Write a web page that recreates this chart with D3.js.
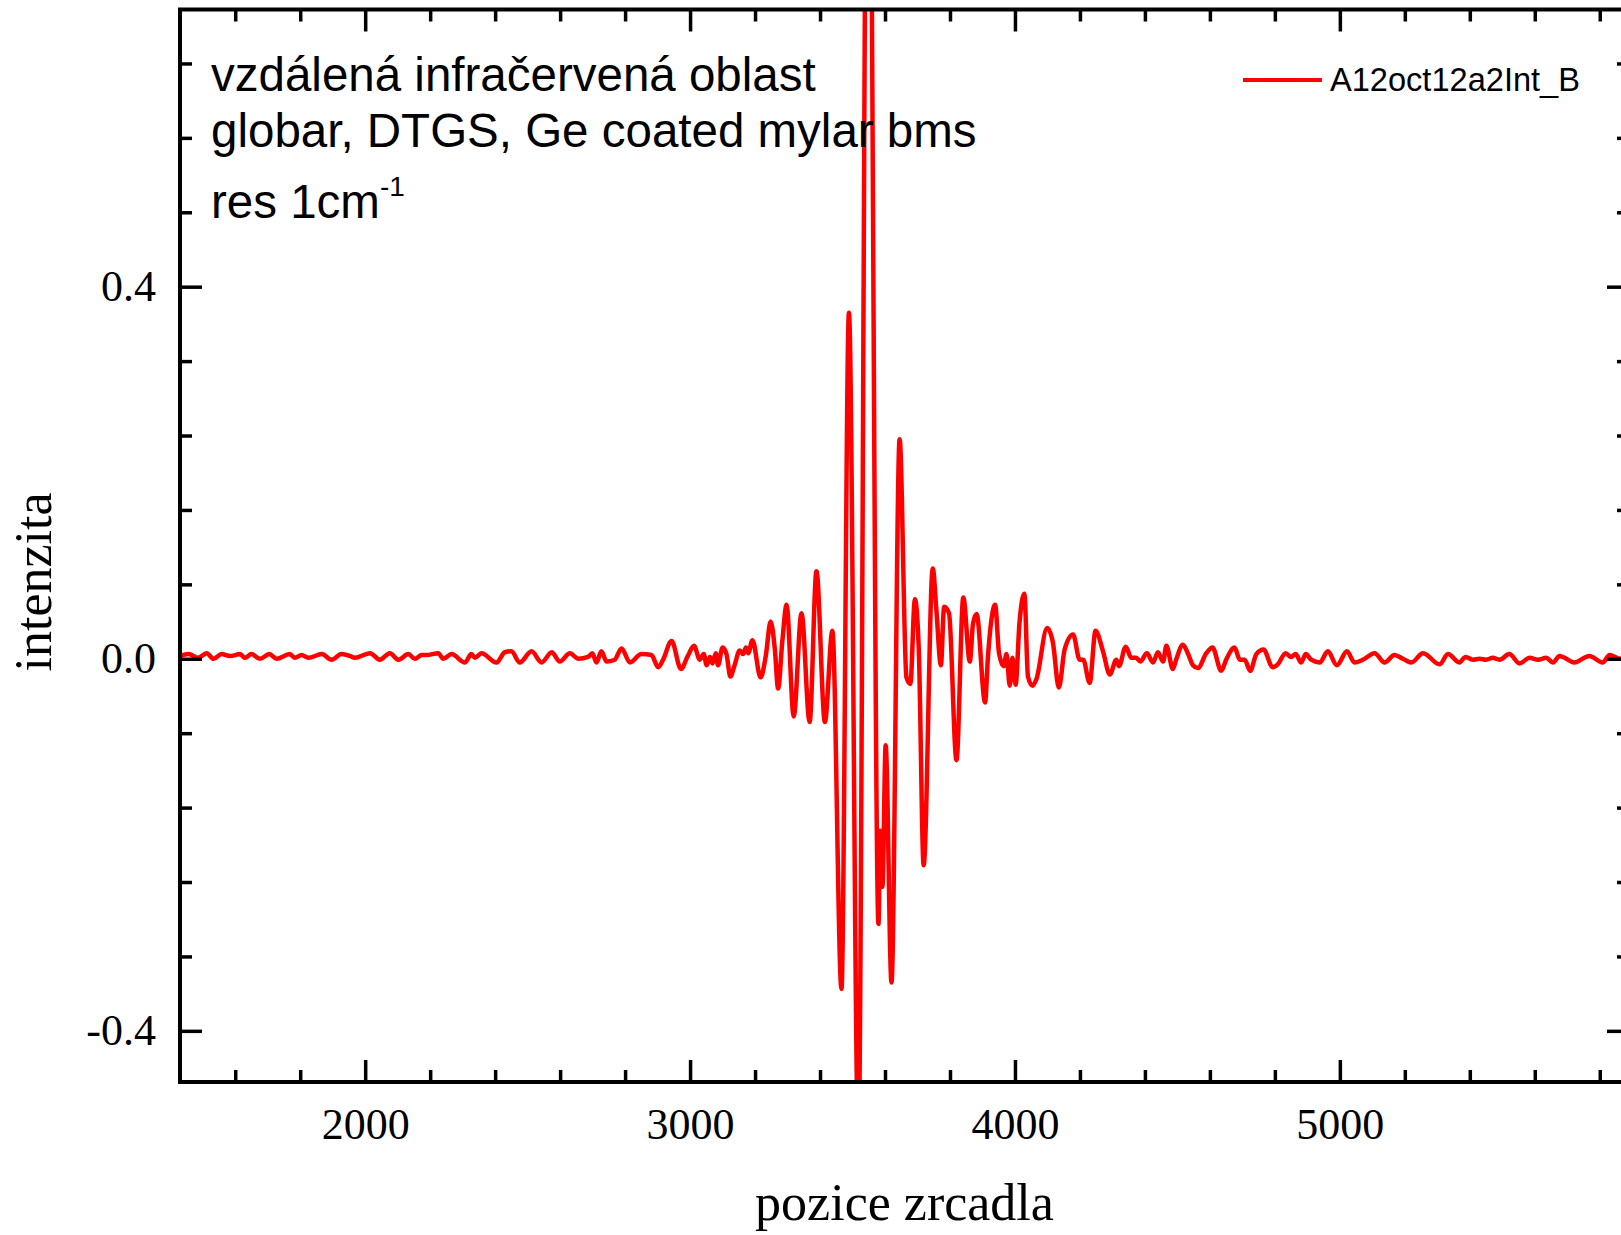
<!DOCTYPE html>
<html>
<head>
<meta charset="utf-8">
<script src="https://cdn.jsdelivr.net/npm/d3@7"></script>
<style>
  html, body { margin: 0; padding: 0; background: #ffffff; }
  svg { display: block; }
</style>
</head>
<body>
<svg id="chart" width="1621" height="1235"></svg>
<script>
// ---- data ----
const pozice = [
  1430,1456,1486,1512,1533,1558,1584,1615,1630,1650,
  1676,1705,1727,1768,1784,1804,1825,1866,1897,1927,
  1953,1968,2015,2045,2076,2102,2133,2153,2174,2189,
  2225,2240,2266,2307,2327,2338,2358,2404,2430,2450,
  2476,2512,2543,2574,2599,2630,2656,2686,2699,2712,
  2727,2743,2768,2789,2815,2850,2881,2902,2917,2943,
  2972,2993,3012,3030,3042,3051,3061,3069,3079,3086,
  3100,3112,3124,3137,3153,3163,3172,3179,3192,3217,
  3233,3248,3261,3271,3284,3297,3319,3343,3368,3389,
  3415,3438,3466,3489,3518,3548,3580,3585,3592,3602,
  3620,3645,3666,3678,3692,3704,3719,3747,3758,3772,
  3782,3797,3820,3841,3861,3871,3882,3908,3917,3939,
  3951,3965,3974,3984,3992,4002,4014,4029,4040,4054,
  4066,4099,4117,4135,4153,4179,4199,4210,4230,4248,
  4271,4292,4312,4320,4341,4358,4373,4386,4406,4425,
  4440,4456,4466,4486,4496,4517,4532,4548,4563,4589,
  4608,4635,4650,4676,4692,4707,4724,4743,4765,4793,
  4809,4833,4850,4864,4881,4895,4912,4938,4963,4991,
  5022,5045,5071,5107,5138,5168,5194,5220,5256,5307,
  5333,5368,5387,5409,5430,5450,5471,5491,5522,5553,
  5584,5610,5635,5656,5676,5722,5768,5809,5830,5864,
  5890
];
const intenzita = [
  0.003,0.005,0.001,0.006,0.000,0.005,0.003,0.005,0.001,0.005,
  0.000,0.005,0.000,0.005,0.001,0.004,0.001,0.005,-0.001,0.005,
  0.003,0.001,0.006,-0.001,0.006,-0.001,0.005,0.000,0.004,0.004,
  0.006,0.000,0.005,-0.004,0.005,0.001,0.006,-0.004,0.007,0.008,
  -0.004,0.008,-0.004,0.007,-0.003,0.006,0.000,0.002,0.006,-0.004,
  0.008,-0.003,-0.001,0.011,-0.004,0.005,0.004,-0.009,-0.001,0.019,
  -0.011,0.003,0.014,-0.001,0.005,-0.007,0.002,-0.005,0.006,-0.007,
  0.012,0.005,-0.019,-0.007,0.009,0.005,0.012,0.006,0.020,-0.020,
  0.003,0.040,0.010,-0.032,0.019,0.058,-0.062,0.049,-0.068,0.094,
  -0.068,0.030,-0.355,0.372,-0.52,1.13,-0.285,-0.185,-0.245,-0.093,
  -0.348,0.236,-0.020,-0.027,0.064,0.010,-0.222,0.097,0.053,-0.007,
  0.056,0.049,-0.109,0.066,-0.003,0.038,0.048,-0.047,0.003,0.058,
  0.006,-0.008,0.005,-0.029,0.001,-0.028,0.039,0.070,-0.019,-0.029,
  -0.022,0.033,0.017,-0.031,0.010,0.026,-0.001,-0.001,-0.026,0.030,
  0.008,-0.017,-0.001,-0.008,0.013,0.001,0.001,-0.003,0.006,-0.004,
  0.007,-0.003,0.014,-0.011,-0.001,0.015,0.006,-0.007,-0.010,0.006,
  0.012,-0.013,-0.001,0.012,-0.001,-0.001,-0.013,0.005,0.010,-0.009,
  -0.006,0.006,0.002,0.005,-0.004,0.005,-0.001,-0.004,0.008,-0.007,
  0.008,-0.004,-0.001,0.006,-0.004,0.004,0.000,-0.004,0.006,-0.006,
  0.005,-0.004,0.002,-0.001,0.000,-0.001,0.001,-0.001,0.005,-0.005,
  0.001,-0.001,0.001,-0.004,0.003,-0.004,0.003,-0.004,0.004,0.000,
  0.000
];
const seriesName = "A12oct12a2Int_B";
const xDomain = [1430, 5890];
const yDomain = [-0.455, 0.698];
const xMajorTicks = [2000, 3000, 4000, 5000];
const xMinorTicks = [1600, 1800, 2200, 2400, 2600, 2800, 3200, 3400, 3600, 3800,
                     4200, 4400, 4600, 4800, 5200, 5400, 5600, 5800];
const yMajorTicks = [-0.4, 0.0, 0.4];
const yMajorLabels = ["-0.4", "0.0", "0.4"];
const yMinorTicks = [-0.32, -0.24, -0.16, -0.08, 0.08, 0.16, 0.24, 0.32, 0.48, 0.56, 0.64];
const xTitle = "pozice zrcadla";
const yTitle = "intenzita";
const noteLines = ["vzdálená infračervená oblast", "globar, DTGS, Ge coated mylar bms"];
const noteRes = "res 1cm";
const noteSup = "-1";

// ---- layout ----
const L = 180, R = 1629, T = 9.5, B = 1082;
const svg = d3.select("#chart");
const x = d3.scaleLinear().domain(xDomain).range([L, R]);
const y = d3.scaleLinear().domain(yDomain).range([B, T]);

const serif = "'Liberation Serif', 'Times New Roman', serif";
const sans = "'Liberation Sans', Arial, Helvetica, sans-serif";

svg.append("defs").append("clipPath").attr("id", "plotclip")
  .append("rect").attr("x", L).attr("y", T).attr("width", R - L).attr("height", B - T);

// curve
const data = pozice.map((p, i) => ({ x: p, y: intenzita[i] }));
svg.append("path")
  .datum(data)
  .attr("clip-path", "url(#plotclip)")
  .attr("fill", "none")
  .attr("stroke", "#ff0000")
  .attr("stroke-width", 4.5)
  .attr("stroke-linejoin", "round")
  .attr("d", d3.line().x(d => x(d.x)).y(d => y(d.y)).curve(d3.curveMonotoneX));

// axes helper
function styleAxis(g, fontSize) {
  g.select(".domain").remove();
  g.selectAll(".tick line").attr("stroke", "#000").attr("stroke-width", 3.5);
  g.selectAll(".tick text").attr("fill", "#000")
    .style("font-family", serif).style("font-size", fontSize + "px");
}
const MAJ = 22, MIN = 12;

// bottom
const gB = svg.append("g").attr("transform", `translate(0,${B})`);
gB.call(d3.axisBottom(x).tickValues(xMajorTicks).tickFormat(d3.format("d"))
  .tickSizeInner(-MAJ).tickSizeOuter(0).tickPadding(26));
styleAxis(gB, 44);
const gBm = svg.append("g").attr("transform", `translate(0,${B})`);
gBm.call(d3.axisBottom(x).tickValues(xMinorTicks).tickFormat("").tickSizeInner(-MIN).tickSizeOuter(0));
styleAxis(gBm, 44);

// top
const gT = svg.append("g").attr("transform", `translate(0,${T})`);
gT.call(d3.axisTop(x).tickValues(xMajorTicks).tickFormat("").tickSizeInner(-MAJ).tickSizeOuter(0));
styleAxis(gT, 44);
const gTm = svg.append("g").attr("transform", `translate(0,${T})`);
gTm.call(d3.axisTop(x).tickValues(xMinorTicks).tickFormat("").tickSizeInner(-MIN).tickSizeOuter(0));
styleAxis(gTm, 44);

// left
const gL = svg.append("g").attr("transform", `translate(${L},0)`);
gL.call(d3.axisLeft(y).tickValues(yMajorTicks).tickFormat((d, i) => yMajorLabels[i])
  .tickSizeInner(-MAJ).tickSizeOuter(0).tickPadding(24));
styleAxis(gL, 44);
const gLm = svg.append("g").attr("transform", `translate(${L},0)`);
gLm.call(d3.axisLeft(y).tickValues(yMinorTicks).tickFormat("").tickSizeInner(-MIN).tickSizeOuter(0));
styleAxis(gLm, 44);

// right
const gR = svg.append("g").attr("transform", `translate(${R},0)`);
gR.call(d3.axisRight(y).tickValues(yMajorTicks).tickFormat("").tickSizeInner(-MAJ).tickSizeOuter(0));
styleAxis(gR, 44);
const gRm = svg.append("g").attr("transform", `translate(${R},0)`);
gRm.call(d3.axisRight(y).tickValues(yMinorTicks).tickFormat("").tickSizeInner(-MIN).tickSizeOuter(0));
styleAxis(gRm, 44);

// frame
svg.append("rect").attr("x", L).attr("y", T).attr("width", R - L).attr("height", B - T)
  .attr("fill", "none").attr("stroke", "#000").attr("stroke-width", 4);

// axis titles
svg.append("text").attr("x", (L + R) / 2).attr("y", 1220)
  .attr("text-anchor", "middle").style("font-family", serif).style("font-size", "52px")
  .text(xTitle);
svg.append("text").attr("transform", "translate(51,582) rotate(-90)")
  .attr("text-anchor", "middle").style("font-family", serif).style("font-size", "52px")
  .text(yTitle);

// annotation
const noteY = [91, 147];
noteLines.forEach((t, i) => {
  svg.append("text").attr("x", 211).attr("y", noteY[i])
    .style("font-family", sans).style("font-size", "47.5px").text(t);
});
const res = svg.append("text").attr("x", 211).attr("y", 218)
  .style("font-family", sans).style("font-size", "47.5px");
res.append("tspan").text(noteRes);
res.append("tspan").attr("dy", -22).style("font-size", "28px").text(noteSup);

// legend
svg.append("line").attr("x1", 1243).attr("x2", 1322).attr("y1", 80).attr("y2", 80)
  .attr("stroke", "#ff0000").attr("stroke-width", 4);
svg.append("text").attr("x", 1330).attr("y", 91)
  .style("font-family", sans).style("font-size", "32.6px").text(seriesName);
</script>
</body>
</html>
